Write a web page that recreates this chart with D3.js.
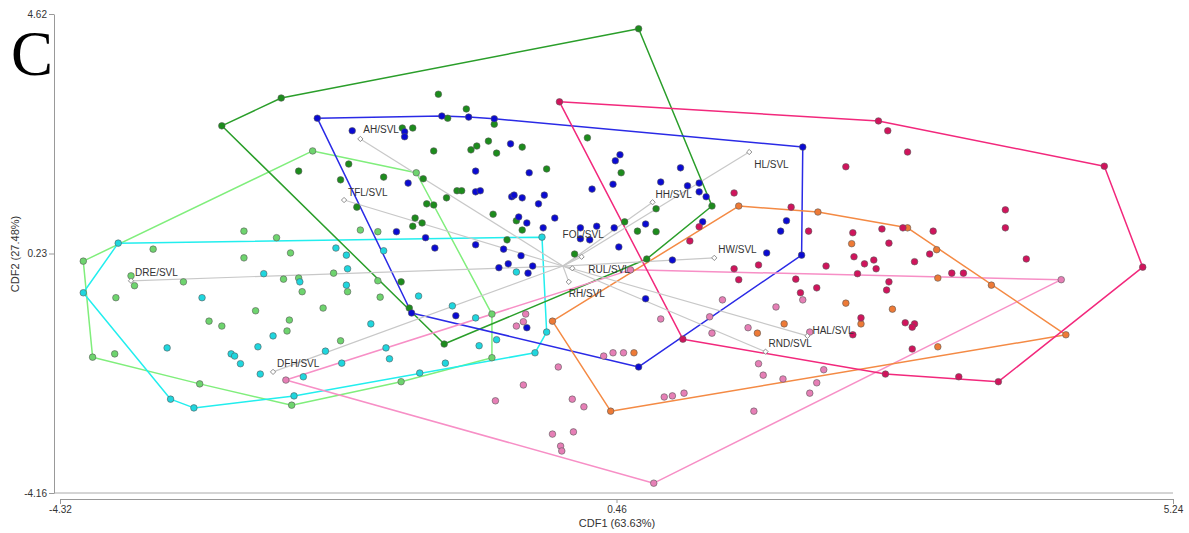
<!DOCTYPE html>
<html>
<head>
<meta charset="utf-8">
<script src="https://cdn.jsdelivr.net/npm/d3@7"></script>
<style>
  body { margin: 0; background: #fff; }
  svg { display: block; font-family: "Liberation Sans", Arial, sans-serif; }
</style>
</head>
<body>
<svg id="chart" width="1189" height="533"></svg>
<script>
// group scores (CDF1, CDF2)
const lightGreen = [[-2.15,2.11],[-1.26,1.71],[-0.61,-0.88],[-0.61,-1.68],[-1.39,-2.12],[-2.33,-2.55],[-3.12,-2.16],[-4.04,-1.67],[-4.12,0.09],[-3.52,0.31],[-2.74,0.64],[-2.46,0.52],[-2.34,0.24],[-2.74,0.15],[-3.71,-0.18],[-3.68,-0.36],[-3.26,-0.29],[-3.84,-0.58],[-2.40,-0.24],[-2.27,-0.22],[-2.24,-0.47],[-2.64,-0.82],[-3.04,-1.01],[-2.93,-1.10],[-2.35,-0.99],[-2.37,-1.19],[-3.85,-1.61],[-1.74,0.66],[-1.59,0.63],[-1.97,-0.13],[-1.85,-0.47],[-1.59,-0.27],[-1.57,-0.57],[-2.06,-0.77],[-1.91,-1.37]];

const cyan = [[-3.82,0.42],[-4.12,-0.49],[-3.37,-2.44],[-3.17,-2.60],[-0.24,-1.59],[-0.14,-1.21],[-0.18,0.53],[-2.57,-0.14],[-2.26,-0.29],[-3.10,-0.58],[-2.49,-1.28],[-2.62,-1.48],[-3.40,-1.50],[-2.85,-1.61],[-2.82,-1.65],[-2.77,-1.79],[-2.60,-1.98],[-2.31,-2.38],[-2.23,-2.03],[-1.85,-0.05],[-1.86,0.20],[-1.95,0.33],[-1.86,-0.35],[-1.54,0.28],[-1.65,-1.06],[-2.04,-1.56],[-1.90,-1.78],[-1.52,-1.50],[-1.49,-1.70],[-1.24,-0.55],[-0.95,-0.73],[-0.75,-0.95],[-0.57,-1.35],[-0.72,-1.46],[-1.01,-1.78],[-1.23,-1.96],[-0.40,-0.11]];

const darkGreen = [[-2.93,2.57],[-2.42,3.08],[0.65,4.35],[1.28,1.10],[0.72,0.13],[-1.02,-1.43],[-1.07,3.15],[-0.83,2.88],[-0.99,2.71],[-0.59,2.60],[-1.38,2.53],[-1.29,2.53],[-1.11,2.11],[-0.79,2.13],[-0.74,2.20],[-0.64,2.29],[-0.57,2.07],[-0.35,2.18],[0.21,2.35],[-0.14,1.78],[0.50,1.71],[-1.54,1.63],[-1.20,1.60],[-0.91,1.38],[-0.87,1.38],[-1.00,1.25],[-1.17,1.14],[-1.11,1.12],[-0.60,0.95],[-1.27,0.88],[-1.21,0.79],[-1.29,0.73],[-0.40,0.83],[-0.35,0.66],[-0.48,0.48],[0.53,0.81],[0.64,0.64],[0.80,1.05],[0.80,0.63],[0.10,0.22],[-1.84,1.87],[-2.27,1.74],[-1.91,1.58],[-1.77,1.08],[-1.39,-0.29],[-1.32,-0.77]];

const blue = [[-2.11,2.71],[-1.04,2.75],[-0.81,2.73],[-0.59,2.70],[2.06,2.18],[2.05,0.20],[0.65,-1.85],[-1.30,-0.86],[-1.81,2.48],[-1.36,2.46],[-1.36,2.37],[-0.45,2.24],[-0.75,1.74],[-0.29,1.71],[-1.33,1.52],[-0.75,1.36],[-0.71,1.38],[-0.44,1.27],[-0.42,1.30],[-0.35,1.25],[-0.16,1.30],[-0.21,1.14],[-0.07,0.88],[-0.38,0.90],[-0.31,0.79],[-0.17,0.70],[-1.43,0.63],[-1.18,0.52],[-1.10,0.33],[-0.75,0.39],[-0.51,0.31],[-0.36,0.19],[-0.26,0.00],[-0.47,0.04],[-0.55,-0.03],[-0.30,-0.13],[0.49,2.04],[0.45,1.93],[0.43,1.50],[0.25,1.41],[0.15,0.70],[0.29,0.73],[0.44,0.70],[0.48,0.35],[0.15,0.50],[0.23,0.48],[0.84,1.54],[1.01,1.80],[1.07,1.47],[1.17,1.52],[1.17,1.36],[1.23,1.27],[0.71,0.77],[1.20,0.81],[0.94,0.11],[1.75,0.24],[1.92,0.83],[1.87,0.64],[-0.92,-0.91],[-0.31,-1.13],[0.71,-0.60]];

const pink = [[-2.38,-2.09],[0.78,-3.98],[4.28,-0.25],[0.58,-0.07],[-0.32,-0.88],[-0.34,-1.02],[-0.40,-1.10],[-0.04,-1.85],[-0.34,-2.18],[-0.58,-2.47],[0.08,-2.44],[0.18,-2.58],[-0.09,-3.08],[0.09,-3.04],[-0.02,-3.30],[-0.01,-3.39],[0.35,-1.65],[0.43,-1.59],[0.52,-1.59],[0.84,-0.97],[0.87,-2.40],[0.94,-2.38],[1.04,-2.33],[1.26,-0.93],[1.28,-1.23],[1.37,-0.62],[1.59,-1.13],[1.83,-0.75],[1.68,-1.79],[1.72,-2.00],[1.89,-2.07],[1.64,-2.66],[2.06,-0.62],[2.24,-1.90],[2.18,-2.14],[2.12,-2.33],[2.12,-1.21]];

const orange = [[1.51,1.10],[2.19,0.99],[2.96,0.70],[4.32,-1.26],[0.41,-2.66],[-0.09,-1.01],[2.48,0.41],[3.21,0.30],[3.22,-0.22],[3.68,-0.35],[2.43,-0.68],[2.83,-0.79],[1.90,-1.06],[2.56,-1.06],[3.22,-1.48],[1.67,-1.23],[0.61,-1.59]];

const crimson = [[-0.03,3.01],[2.71,2.66],[4.65,1.83],[4.98,-0.02],[3.74,-2.12],[3.40,-2.03],[2.77,-1.98],[1.03,-1.34],[2.79,2.48],[2.96,2.09],[2.43,1.82],[3.80,1.03],[3.80,0.70],[3.98,0.13],[1.96,1.08],[2.11,0.64],[2.49,0.61],[2.74,0.68],[2.92,0.70],[3.18,0.64],[2.80,0.42],[3.02,0.08],[3.15,0.22],[2.50,0.17],[2.59,0.04],[2.67,0.11],[2.69,-0.05],[2.53,-0.14],[2.26,0.00],[3.34,-0.13],[3.44,-0.13],[2.00,-0.24],[2.18,-0.40],[2.80,-0.29],[2.78,-0.44],[2.04,-0.49],[2.56,-0.95],[2.94,-1.04],[3.02,-1.06],[3.00,-1.12],[2.49,-1.26],[3.00,-1.52],[1.47,1.34],[1.17,0.72],[1.09,0.46],[1.47,-0.05],[1.51,-0.25],[1.68,0.02]];

// structure coefficients (biplot vectors)
const vectorNames = ['AH/SVL','TFL/SVL','DRE/SVL','DFH/SVL','HL/SVL','HH/SVL','FOL/SVL','HW/SVL','RUL/SVL','RH/SVL','RND/SVL','HAL/SVL'];
const vectorX = [-1.74,-1.88,-3.71,-2.49,1.60,0.77,0.16,1.30,0.08,0.05,1.74,2.10];
const vectorY = [2.33,1.21,-0.27,-1.94,2.09,1.17,0.17,0.15,-0.04,-0.29,-1.57,-1.28];

const xTicks = [-4.32, 0.46, 5.24];
const yTicks = [-4.16, 0.23, 4.62];

// styling
const groups = [
  {pts: lightGreen, fill: '#6ed46e', line: '#80ee7c'},
  {pts: cyan,       fill: '#1fd6de', line: '#22eeee'},
  {pts: darkGreen,  fill: '#1c8c1c', line: '#2a9e2a'},
  {pts: blue,       fill: '#0a0ad2', line: '#2a2ae6'},
  {pts: pink,       fill: '#e67fb6', line: '#f78fc6'},
  {pts: orange,     fill: '#ee7a36', line: '#f48a44'},
  {pts: crimson,    fill: '#d0145c', line: '#f2287c'}
];
// label placement relative to the arrow tip (px)
const labelOffsets = [[3,-9],[4,-8],[4,-8],[4,-8],[5,12],[3,-8],[-19,-22],[4,-8],[16,1],[0,12],[3,-8],[5,-5]];

const svg = d3.select('#chart');

const x = d3.scaleLinear().domain([-4.32, 5.24]).range([60, 1173]);
const y = d3.scaleLinear().domain([-4.16, 4.62]).range([493, 14]);

// frame line along the bottom of the plot
svg.append('line')
  .attr('x1', 54).attr('x2', 1173)
  .attr('y1', y(-4.16)).attr('y2', y(-4.16))
  .attr('stroke', '#aaa').attr('stroke-width', 1);

const fmt = d => d.toFixed(2);

const xAxis = svg.append('g')
  .attr('transform', 'translate(0,499)')
  .call(d3.axisBottom(x).tickValues(xTicks).tickFormat(fmt).tickSize(4).tickSizeOuter(5).tickPadding(3));

const yAxis = svg.append('g')
  .attr('transform', 'translate(54,0)')
  .call(d3.axisLeft(y).tickValues(yTicks).tickFormat(fmt).tickSize(5).tickSizeOuter(0).tickPadding(2));

[xAxis, yAxis].forEach(a => {
  a.selectAll('.domain, .tick line').attr('stroke', '#999');
  a.selectAll('text').attr('fill', '#333').attr('font-size', 10)
    .attr('font-family', '"Liberation Sans", Arial, sans-serif');
});

svg.append('text')
  .attr('x', 617).attr('y', 527)
  .attr('text-anchor', 'middle')
  .attr('font-size', 11).attr('fill', '#333')
  .text('CDF1 (63.63%)');

svg.append('text')
  .attr('transform', 'translate(19,254) rotate(-90)')
  .attr('text-anchor', 'middle')
  .attr('font-size', 11).attr('fill', '#333')
  .text('CDF2 (27.48%)');

svg.append('text')
  .attr('x', 11).attr('y', 75)
  .attr('font-family', '"Liberation Serif", "Times New Roman", serif')
  .attr('font-size', 63).attr('fill', '#000')
  .text('C');

// convex hulls
const hullLayer = svg.append('g');
groups.forEach(g => {
  const hull = d3.polygonHull(g.pts.map(p => [x(p[0]), y(p[1])]));
  hullLayer.append('path')
    .attr('d', 'M' + hull.join('L') + 'Z')
    .attr('fill', 'none')
    .attr('stroke', g.line)
    .attr('stroke-width', 1.5)
    .attr('stroke-linejoin', 'round');
});

// vectors
const vecs = vectorNames.map((n, i) => ({name: n, vx: vectorX[i], vy: vectorY[i], off: labelOffsets[i]}));

svg.append('g').selectAll('line')
  .data(vecs)
  .enter()
  .append('line')
  .attr('x1', x(0)).attr('y1', y(0))
  .attr('x2', d => x(d.vx)).attr('y2', d => y(d.vy))
  .attr('stroke', '#c8c8c8')
  .attr('stroke-width', 1.2);

// points
const pointLayer = svg.append('g');
groups.forEach(g => {
  pointLayer.append('g').selectAll('circle')
    .data(g.pts)
    .enter()
    .append('circle')
    .attr('cx', d => x(d[0]))
    .attr('cy', d => y(d[1]))
    .attr('r', 3.3)
    .attr('fill', g.fill)
    .attr('stroke', '#5a5a5a')
    .attr('stroke-width', 0.6);
});

// vector tips and labels
const tips = svg.append('g');
tips.selectAll('path')
  .data(vecs)
  .enter()
  .append('path')
  .attr('d', d3.symbol(d3.symbolSquare, 14))
  .attr('transform', d => `translate(${x(d.vx)},${y(d.vy)}) rotate(45)`)
  .attr('fill', '#fff')
  .attr('stroke', '#888')
  .attr('stroke-width', 0.9);

tips.selectAll('text')
  .data(vecs)
  .enter()
  .append('text')
  .attr('x', d => x(d.vx) + d.off[0])
  .attr('y', d => y(d.vy) + d.off[1])
  .attr('dy', '0.35em')
  .attr('font-size', 10)
  .attr('fill', '#333')
  .text(d => d.name);
</script>
</body>
</html>
